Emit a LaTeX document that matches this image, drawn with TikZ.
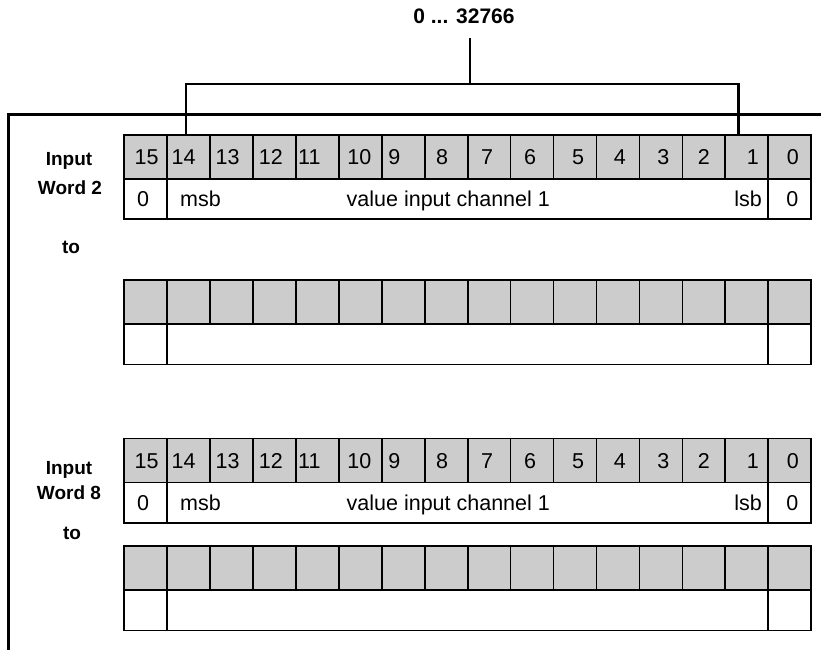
\documentclass[tikz,border=0pt]{standalone}
\usepackage{fontspec}
\setmainfont{Liberation Sans}
\begin{document}
\begin{tikzpicture}[x=1pt,y=-1pt,
  frame/.style={line width=2.6pt},
  cellbox/.style={draw, line width=1.7pt, inner sep=0pt, anchor=north west},
  greycell/.style={cellbox, fill=black!20, minimum width=42.94pt, minimum height=44pt},
  whitecell/.style={cellbox, fill=white, minimum height=40.5pt},
  celltext/.style={font=\fontsize{21.5}{25}\selectfont, inner sep=0pt},
  label/.style={font=\fontsize{19}{23}\selectfont\bfseries, inner sep=0pt},
  toplabel/.style={font=\fontsize{21}{25}\selectfont\bfseries, inner sep=0pt}
]
\useasboundingbox (0,0) rectangle (821,650);

% tables
\foreach \t/\y in {1/133.8, 2/279, 3/437.7, 4/545} {
  \foreach \i in {0,...,15} {
    \node[greycell] (t\t c\i) at ({123.3+(15-\i)*42.94}, \y) {};
  }
  \node[whitecell, minimum width=42.94pt] (t\t a) at (123.3, \y+44) {};
  \node[whitecell, minimum width=601.16pt] (t\t m) at (166.24, \y+44) {};
  \node[whitecell, minimum width=42.94pt] (t\t z) at (767.4, \y+44) {};
}

% texts in the filled tables
\foreach \t in {1,3} {
  \foreach \i/\dx in {15/1, 14/-5, 13/-4, 12/-3.5, 11/-8, 10/-1, 9/-9, 8/-4, 7/-2, 6/-2, 5/3, 4/2, 3/2.5, 2/0, 1/6, 0/3} {
    \node[celltext, anchor=base] (n\t c\i) at ([xshift=\dx pt, yshift=-7.7pt]t\t c\i.center) {\i};
  }
  \node[celltext, anchor=base] (n\t a) at ([xshift=-2.5pt, yshift=-7.5pt]t\t a.center) {0};
  \node[celltext, anchor=base] (n\t z) at ([xshift=2.5pt, yshift=-7.5pt]t\t z.center) {0};
  \node[celltext, anchor=base west] (msb\t) at ([yshift=-7.5pt]t\t a.center -| 180,0) {msb};
  \node[celltext, anchor=base west] (val\t) at ([yshift=-7.5pt]t\t a.center -| 346.5,0) {value input channel 1};
  \node[celltext, anchor=base east] (lsb\t) at ([yshift=-7.5pt]t\t a.center -| 762,0) {lsb};
}

% side labels
\node[label] (in2) at (69,160.5) {Input};
\node[label] (wd2) at (70,187.5) {Word 2};
\node[label] (to2) at (71,247) {to};
\node[label] (in8) at (69,469.5) {Input};
\node[label] (wd8) at (69,493) {Word 8};
\node[label] (to8) at (72,533) {to};

% top label and bracket
\node[toplabel] (top) at (464,16.3) {0 ... 32766};
\coordinate (bt) at (470,38);
\coordinate (bm) at (470,84);
\coordinate (bl) at (186,84);
\coordinate (br) at (738.3,84);
\draw[frame] (bt) -- (bm);
\draw[frame] (t1c14.north -| bl) -- (bl) -- (br) -- (t1c1.north -| br);

% outer frame
\coordinate (fr) at (821,114.3);
\coordinate (fc) at (8.3,114.3);
\coordinate (fb) at (8.3,650);
\draw[frame] (fr) -- (fc) -- (fb);
\end{tikzpicture}
\end{document}
